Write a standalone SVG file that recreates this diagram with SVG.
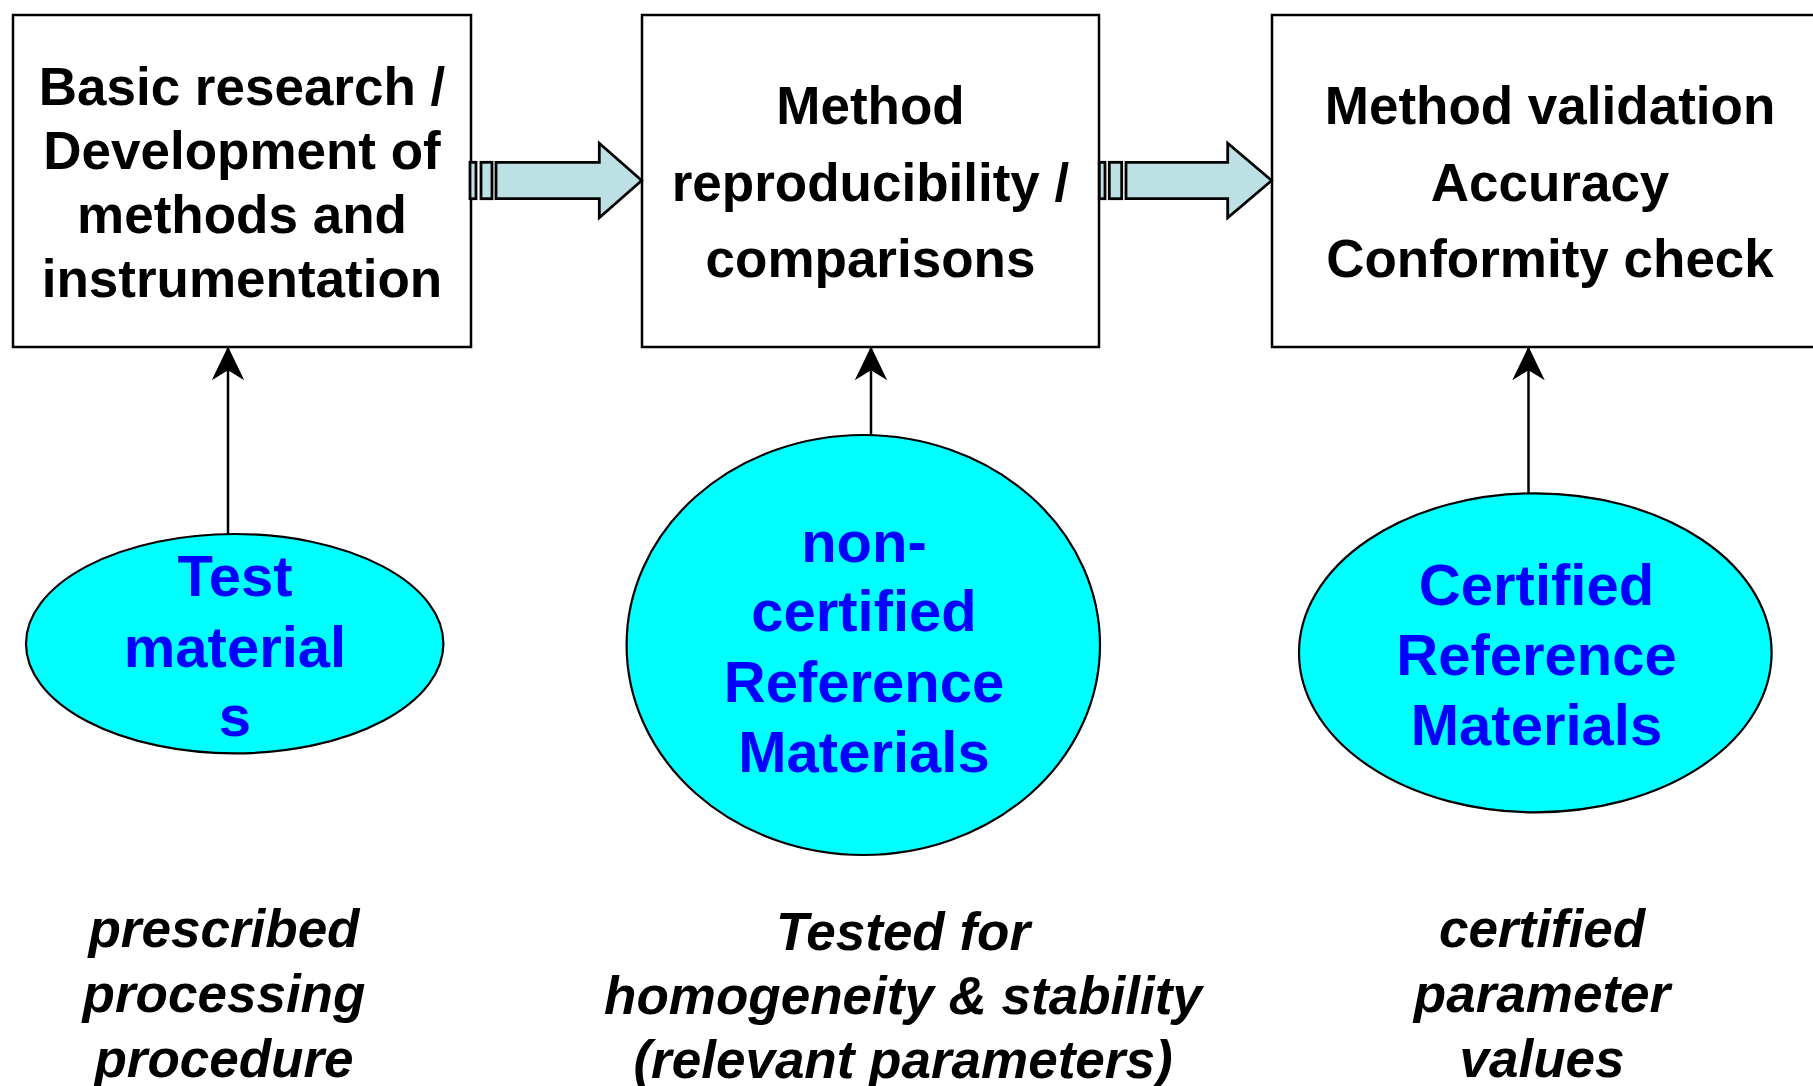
<svg xmlns="http://www.w3.org/2000/svg" width="1813" height="1086" viewBox="0 0 1813 1086">
<style>
.box{fill:#fff;stroke:#000;stroke-width:2.5}
.ell{fill:#00FFFF;stroke:#000;stroke-width:2.2}
.bt{font-family:"Liberation Sans",Arial,sans-serif;font-weight:bold;font-size:53px;fill:#000;text-anchor:middle}
.et{font-family:"Liberation Sans",Arial,sans-serif;font-weight:bold;font-size:58px;fill:#0000FF;text-anchor:middle}
.it{font-family:"Liberation Sans",Arial,sans-serif;font-weight:bold;font-style:italic;font-size:53px;fill:#000;text-anchor:middle}
.blk{fill:#BCE0E4;stroke:#000;stroke-width:2.8;stroke-linejoin:miter}
.con{stroke:#000;stroke-width:2.5;fill:none}
</style>
<defs>
<marker id="ah" markerUnits="userSpaceOnUse" markerWidth="40" markerHeight="40" refX="0" refY="0" viewBox="-30 -15 32 30" orient="auto" overflow="visible">
<path d="M0,0 L-27,-13 L-19,0 L-27,13 Z" fill="#000"/>
</marker>
</defs>
<rect width="1813" height="1086" fill="#fff"/>
<g id="box1"><rect class="box" x="13" y="15" width="458" height="332"/>
<text class="bt" x="242" y="105">Basic research /</text>
<text class="bt" x="242" y="169">Development of</text>
<text class="bt" x="242" y="233">methods and</text>
<text class="bt" x="242" y="297">instrumentation</text></g>
<g id="box2"><rect class="box" x="642" y="15" width="457" height="332"/>
<text class="bt" x="870.5" y="124">Method</text>
<text class="bt" x="870.5" y="201">reproducibility /</text>
<text class="bt" x="870.5" y="277">comparisons</text></g>
<g id="box3"><rect class="box" x="1272" y="15" width="560" height="332"/>
<text class="bt" x="1550" y="124">Method validation</text>
<text class="bt" x="1550" y="201">Accuracy</text>
<text class="bt" x="1550" y="277">Conformity check</text></g>
<g id="ell1"><ellipse class="ell" cx="234.7" cy="643.7" rx="208.7" ry="109.7"/>
<text class="et" x="235" y="596">Test</text>
<text class="et" x="235" y="667">material</text>
<text class="et" x="235" y="736">s</text></g>
<g id="ell2"><ellipse class="ell" cx="863.3" cy="645" rx="236.7" ry="210"/>
<text class="et" x="864" y="562">non-</text>
<text class="et" x="864" y="631">certified</text>
<text class="et" x="864" y="702">Reference</text>
<text class="et" x="864" y="772">Materials</text></g>
<g id="ell3"><ellipse class="ell" cx="1535.3" cy="652.8" rx="236.3" ry="159.5"/>
<text class="et" x="1536.5" y="605">Certified</text>
<text class="et" x="1536.5" y="675">Reference</text>
<text class="et" x="1536.5" y="745">Materials</text></g>
<g id="note1">
<text class="it" x="224" y="947">prescribed</text>
<text class="it" x="224" y="1012">processing</text>
<text class="it" x="224" y="1077">procedure</text></g>
<g id="note2">
<text class="it" x="903" y="950">Tested for</text>
<text class="it" x="903" y="1014">homogeneity &amp; stability</text>
<text class="it" x="903" y="1078">(relevant parameters)</text></g>
<g id="note3">
<text class="it" x="1542" y="947">certified</text>
<text class="it" x="1542" y="1012">parameter</text>
<text class="it" x="1542" y="1077">values</text></g>
<g id="connectors">
<g id="flow1">
<rect class="blk" x="470" y="162.3" width="6" height="36.4"/>
<rect class="blk" x="481" y="162.3" width="11" height="36.4"/>
<path class="blk" d="M496,162.3 L599.3,162.3 L599.3,143.3 L641.7,180.5 L599.3,217.7 L599.3,198.7 L496,198.7 Z"/>
</g>
<g id="flow2">
<rect class="blk" x="1099.3" y="162.3" width="5.7" height="36.4"/>
<rect class="blk" x="1109.3" y="162.3" width="12.4" height="36.4"/>
<path class="blk" d="M1126,162.3 L1227.7,162.3 L1227.7,143.3 L1271.7,180.5 L1227.7,217.7 L1227.7,198.7 L1126,198.7 Z"/>
</g>
<line class="con" x1="228" y1="534" x2="228" y2="346.5" marker-end="url(#ah)"/>
<line class="con" x1="871" y1="435" x2="871" y2="346.5" marker-end="url(#ah)"/>
<line class="con" x1="1528.5" y1="493.3" x2="1528.5" y2="346.5" marker-end="url(#ah)"/>
</g>
</svg>
